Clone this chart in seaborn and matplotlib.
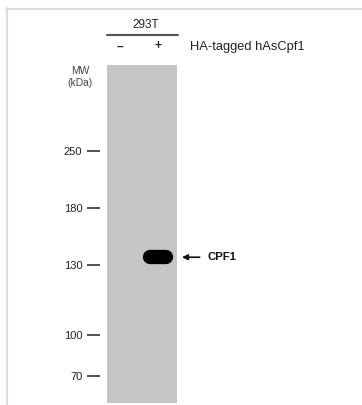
import numpy as np
import pandas as pd
import matplotlib.pyplot as plt
import seaborn as sns
from matplotlib.lines import Line2D

# Western blot: 293T lysate, HA-tagged hAsCpf1 (- / +)
lanes = ['–', '+']
cell_line = '293T'
treatment = 'HA-tagged hAsCpf1'

# MW ladder (kDa) and relative migration (0 = top of gel, 1 = bottom)
mw_kda = [250, 180, 130, 100, 70]
mw_rf = [0.254, 0.424, 0.592, 0.799, 0.920]

# detected band
band_lane = '+'
band_kda = 136
band_name = 'CPF1'

# migration of the band, from the ladder on a log scale
band_rf = np.interp(np.log(band_kda), np.log(mw_kda[::-1]), mw_rf[::-1])

sns.set_theme(style='white')
plt.rcParams['font.family'] = ['Liberation Sans', 'DejaVu Sans']

W, H = 362, 405
fig = plt.figure(figsize=(W / 100, H / 100), dpi=100)
fig.patch.set_facecolor('white')

# light grey frame round the picture
fig.add_artist(Line2D([7 / W, 7 / W], [0, 1 - 8 / H], color='#dcdcdc', lw=1.6))
fig.add_artist(Line2D([6 / W, 1], [1 - 9 / H, 1 - 9 / H], color='#dcdcdc', lw=1.6))

ax = fig.add_axes([107 / W, 2 / H, 70 / W, 338 / H])
ax.set_facecolor('#c5c5c5')
# ticks sit a little left of the gel
ax.spines['left'].set_position(('outward', 5))

band = pd.DataFrame({'lane': [lanes.index(band_lane) - 0.21, lanes.index(band_lane) + 0.21],
                     'rf': [band_rf, band_rf]})
sns.lineplot(data=band, x='lane', y='rf', ax=ax, color='black', lw=10.3,
             solid_capstyle='round', legend=False)

ax.set_xlim(-0.342, 1.5)
ax.set_ylim(1, 0)
ax.set_xlabel('')
ax.set_ylabel('')

# lane labels on top
ax.xaxis.tick_top()
ax.set_xticks(range(len(lanes)))
ax.set_xticklabels(lanes, fontweight='bold')
ax.tick_params(axis='x', length=0, pad=9, labelsize=8.5, labelcolor='#222222')

# MW ticks on the left
ax.set_yticks(mw_rf)
ax.set_yticklabels([str(m) for m in mw_kda])
ax.tick_params(axis='y', left=True, length=9.3, width=1.1, color='#222222', pad=3.4,
               labelsize=8, labelcolor='#222222')
for s in ax.spines.values():
    s.set_visible(False)

# cell line bracket
ax.text(0.557, 1.118, cell_line, transform=ax.transAxes, ha='center', va='center',
        fontsize=8.5, color='#222222')
ax.add_artist(Line2D([0, 1.014], [1.090, 1.090], transform=ax.transAxes,
                     color='#555555', lw=1.5, clip_on=False))
ax.text(1.186, 1.053, treatment, transform=ax.transAxes, ha='left', va='center',
        fontsize=9.3, color='#222222')

fig.text(80 / W, 1 - 77 / H, 'MW\n(kDa)', ha='center', va='center',
         fontsize=7.4, color='#444444', linespacing=1.2)

# arrow pointing at the band
ax.annotate(band_name, xy=(1.071, band_rf), xycoords=('axes fraction', 'data'),
            xytext=(1.43, band_rf), textcoords=('axes fraction', 'data'),
            ha='left', va='center', fontsize=8.2, fontweight='bold', color='#111111',
            arrowprops=dict(arrowstyle='-|>,head_length=0.4,head_width=0.2',
                            color='#111111', lw=1.2, shrinkA=3, shrinkB=0))

fig.savefig('out.png', dpi=100)
